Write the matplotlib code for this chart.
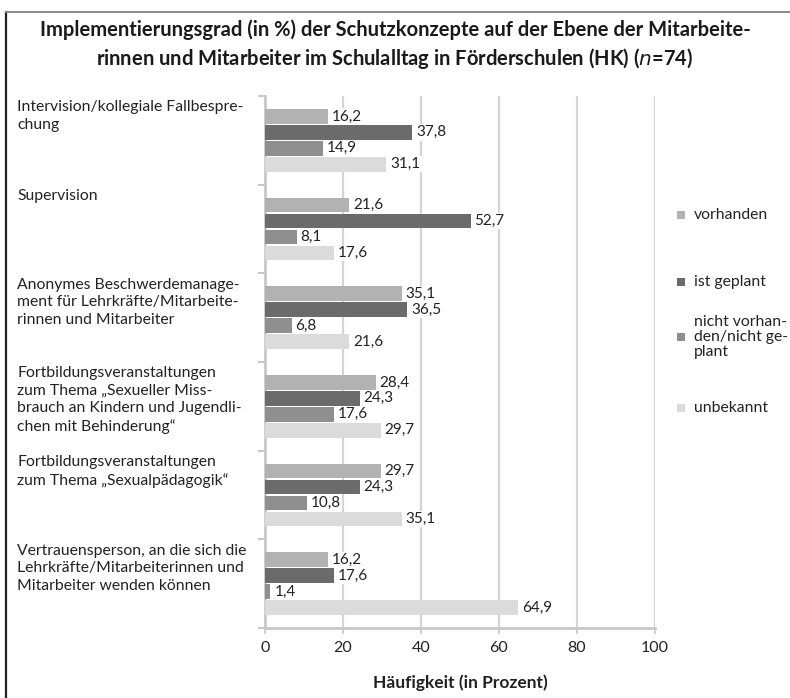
import matplotlib
matplotlib.use("Agg")
import matplotlib.pyplot as plt
from matplotlib.lines import Line2D
from matplotlib.patches import Rectangle
from matplotlib import font_manager as fm

names = {f.name for f in fm.fontManager.ttflist}
FONT = ['Liberation Sans Narrow'] if 'Liberation Sans Narrow' in names else ['Lato']
plt.rcParams['font.family'] = FONT + ['DejaVu Sans']

categories = [
    "Intervision/kollegiale Fallbespre-\nchung",
    "Supervision",
    "Anonymes Beschwerdemanage-\nment für Lehrkräfte/Mitarbeite-\nrinnen und Mitarbeiter",
    "Fortbildungsveranstaltungen\nzum Thema \u201eSexueller Miss-\nbrauch an Kindern und Jugendli-\nchen mit Behinderung\u201c",
    "Fortbildungsveranstaltungen\nzum Thema \u201eSexualpädagogik\u201c",
    "Vertrauensperson, an die sich die\nLehrkräfte/Mitarbeiterinnen und\nMitarbeiter wenden können",
]
series_names = ["vorhanden", "ist geplant", "nicht vorhan-\nden/nicht ge-\nplant", "unbekannt"]
vorhanden = [16.2, 21.6, 35.1, 28.4, 29.7, 16.2]
ist_geplant = [37.8, 52.7, 36.5, 24.3, 24.3, 17.6]
nicht_vorhanden = [14.9, 8.1, 6.8, 17.6, 10.8, 1.4]
unbekannt = [31.1, 17.6, 21.6, 29.7, 35.1, 64.9]
series = [vorhanden, ist_geplant, nicht_vorhanden, unbekannt]
colors = ["#b2b2b2", "#6b6b6b", "#8f8f8f", "#dbdbdb"]
xticks = [0, 20, 40, 60, 80, 100]

W, H = 790, 698
fig = plt.figure(figsize=(W / 100, H / 100), dpi=100)
ax = fig.add_axes([265 / W, 1 - 628 / H, 390 / W, 532 / H])

n = len(categories)
bar_h = 0.165
step = 0.18
for i, cat in enumerate(categories):
    center = i + 0.5
    for j, (vals, col) in enumerate(zip(series, colors)):
        y = center + (j - 1.5) * step
        v = vals[i]
        ax.barh(y, v, height=bar_h, color=col, edgecolor='none', zorder=3)
        ax.text(v + 1.0, y, f"{v:.1f}".replace('.', ','), va='center', ha='left',
                fontsize=11, color='#222222', zorder=4,
                bbox=dict(boxstyle='square,pad=0.08', fc='white', ec='none'))
    ax.text(-63.5, i + 0.05, cat, ha='left', va='top', fontsize=11.3,
            color='#222222', linespacing=1.32, clip_on=False)

ax.set_ylim(n, 0)
ax.set_xlim(0, 100)
ax.set_xticks(xticks)
ax.set_xticklabels([str(t) for t in xticks], fontsize=11.5, color='#222222')
ax.set_yticks(range(n + 1))
ax.set_yticklabels([])
ax.tick_params(axis='y', length=5, width=1.5, color='#c8c8c8', direction='out')
ax.tick_params(axis='x', length=4, width=1.5, color='#d0d0d0', pad=5)
ax.grid(axis='x', color='#d4d4d4', linewidth=1.6, zorder=0)
for s in ['top', 'right']:
    ax.spines[s].set_visible(False)
ax.spines['left'].set_color('#c8c8c8')
ax.spines['left'].set_linewidth(2)
ax.spines['bottom'].set_color('#c8c8c8')
ax.spines['bottom'].set_linewidth(2)
ax.set_xlabel("Häufigkeit (in Prozent)", fontsize=12.5, fontweight='bold',
              color='#222222', labelpad=14)

fig.text(395 / W, 1 - 45 / H,
         "Implementierungsgrad (in %) der Schutzkonzepte auf der Ebene der Mitarbeite-\n"
         "rinnen und Mitarbeiter im Schulalltag in Förderschulen (HK) ($\\mathit{n}$=74)",
         ha='center', va='center', fontsize=14.5, fontweight='bold', color='#1a1a1a',
         linespacing=1.3)

# legend (manual)
leg_y = [215, 282, 337, 408]
for lab, col, yy in zip(series_names, colors, leg_y):
    fig.patches.append(Rectangle(((677) / W, 1 - (yy + 4) / H), 8 / W, 8 / H,
                                 transform=fig.transFigure, fc=col, ec='none'))
    fig.text(694 / W, 1 - yy / H, lab, ha='left', va='center', fontsize=11.3,
             color='#222222', linespacing=1.05)

# frame lines
fig.add_artist(Line2D([6 / W, 6 / W], [0, 1 - 12 / H], transform=fig.transFigure,
                      color='#222222', linewidth=1.6))
fig.add_artist(Line2D([6 / W, 1], [1 - 12 / H, 1 - 12 / H], transform=fig.transFigure,
                      color='#888888', linewidth=1.4))

fig.savefig("out.png", dpi=100)
